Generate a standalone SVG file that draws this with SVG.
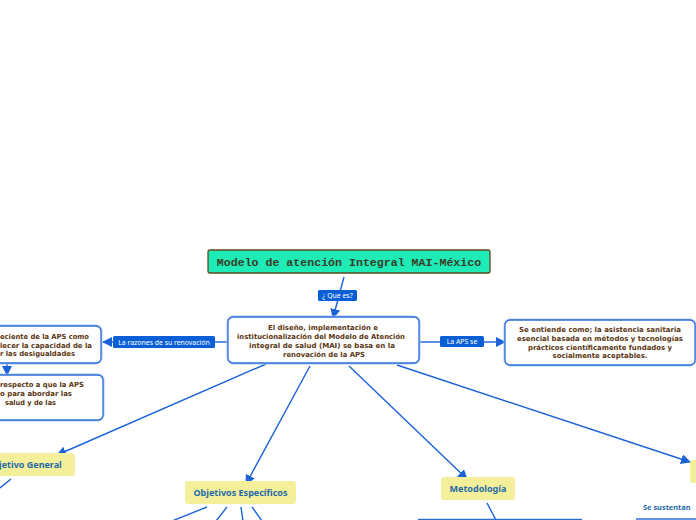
<svg xmlns="http://www.w3.org/2000/svg" width="696" height="520" viewBox="0 0 696 520">
<defs>
<marker id="arr" markerUnits="userSpaceOnUse" markerWidth="10" markerHeight="10" viewBox="0 0 10 10" refX="9" refY="5" orient="auto">
<path d="M0,0 L10,5 L0,10 z" fill="#1a62d8"/>
</marker>
<style>
.c{stroke:#1a62d8;stroke-width:1.4;fill:none}
.ca{stroke:#1a62d8;stroke-width:1.4;fill:none;marker-end:url(#arr)}
.box{fill:#fff;stroke:#2f6fd8;stroke-width:1.3}
.halo{fill:none;stroke:#a9c7f2;stroke-width:3}
.bt{font-family:"DejaVu Sans",Verdana,sans-serif;font-weight:bold;font-size:7px;fill:#5a3510}
.lab{fill:#0a5fd6}
.lt{font-family:"Noto Sans","Open Sans",sans-serif;font-size:6.9px;fill:#fff}
.yel{fill:#f3ef9b}
.yt{font-family:"Noto Sans","Open Sans",sans-serif;font-weight:bold;font-size:9px;fill:#1f6aa9}
</style>
</defs>
<rect width="696" height="520" fill="#fff"/>
<g id="connectors">
<line class="ca" x1="344" y1="277" x2="333" y2="318"/>
<line class="c" x1="228" y1="342" x2="215" y2="342"/>
<line class="ca" x1="113" y1="342" x2="103" y2="342"/>
<line class="ca" x1="7" y1="363" x2="7" y2="375"/>
<line class="c" x1="419" y1="342" x2="440" y2="342"/>
<line class="ca" x1="484" y1="342" x2="505" y2="342"/>
<line class="ca" x1="266" y1="364" x2="57" y2="455"/>
<line class="ca" x1="310" y1="366" x2="246" y2="484"/>
<line class="ca" x1="349" y1="366" x2="467" y2="479"/>
<line class="ca" x1="397" y1="365" x2="690" y2="462"/>
<line class="c" x1="11" y1="479" x2="0" y2="488"/>
<line class="c" x1="207" y1="507" x2="172" y2="521"/>
<line class="c" x1="227" y1="507" x2="216" y2="521"/>
<line class="c" x1="241" y1="507" x2="243" y2="521"/>
<line class="c" x1="252" y1="507" x2="262" y2="521"/>
<line class="c" x1="487" y1="503" x2="496" y2="520"/>
</g>
<g id="root">
<rect x="208" y="250" width="282" height="23" rx="2" fill="#1eebb6" stroke="#5c4a1c" stroke-width="1.3"/>
<text x="349" y="266" text-anchor="middle" font-family="'Liberation Mono','DejaVu Sans Mono',monospace" font-weight="bold" font-size="11.6" fill="#3b3a26">Modelo de atención Integral MAI-México</text>
</g>
<g id="lbl-quees">
<rect class="lab" x="318" y="290" width="39" height="11" rx="1.5"/>
<text class="lt" x="337.5" y="298" text-anchor="middle">¿ Que es?</text>
</g>
<g id="main">
<rect class="halo" x="228" y="317" width="191" height="46" rx="5"/>
<rect class="box" x="228" y="317" width="191" height="46" rx="5"/>
<text class="bt" x="323" y="330" text-anchor="middle" textLength="110" lengthAdjust="spacingAndGlyphs">El diseño, implementación e</text>
<text class="bt" x="321" y="339" text-anchor="middle" textLength="168" lengthAdjust="spacingAndGlyphs">institucionalización del Modelo de Atención</text>
<text class="bt" x="322" y="348" text-anchor="middle" textLength="146" lengthAdjust="spacingAndGlyphs">integral de salud (MAI) se basa en la</text>
<text class="bt" x="324" y="357" text-anchor="middle" textLength="82" lengthAdjust="spacingAndGlyphs">renovación de la APS</text>
</g>
<g id="lbl-razones">
<rect class="lab" x="113" y="336" width="102" height="12" rx="1.5"/>
<text class="lt" x="164" y="344.5" text-anchor="middle">La razones de su renovación</text>
</g>
<g id="left1">
<rect class="halo" x="-6" y="326" width="107" height="37" rx="5"/>
<rect class="box" x="-6" y="326" width="107" height="37" rx="5"/>
<text class="bt" x="0" y="339" textLength="89" lengthAdjust="spacingAndGlyphs">eciente de la APS como</text>
<text class="bt" x="0" y="348" textLength="92" lengthAdjust="spacingAndGlyphs">lecer la capacidad de la</text>
<text class="bt" x="0" y="356" textLength="75" lengthAdjust="spacingAndGlyphs">r las desigualdades</text>
</g>
<g id="left2">
<rect class="halo" x="-6" y="375" width="109" height="45" rx="5"/>
<rect class="box" x="-6" y="375" width="109" height="45" rx="5"/>
<text class="bt" x="0" y="387" textLength="84" lengthAdjust="spacingAndGlyphs">respecto a que la APS</text>
<text class="bt" x="0" y="396" textLength="72" lengthAdjust="spacingAndGlyphs">o para abordar las</text>
<text class="bt" x="5" y="405" textLength="51" lengthAdjust="spacingAndGlyphs">salud y de las</text>
</g>
<g id="lbl-aps">
<rect class="lab" x="440" y="336" width="44" height="11" rx="1.5"/>
<text class="lt" x="462" y="344" text-anchor="middle">La APS se</text>
</g>
<g id="right1">
<rect class="halo" x="505" y="320" width="190" height="45" rx="5"/>
<rect class="box" x="505" y="320" width="190" height="45" rx="5"/>
<text class="bt" x="600" y="332" text-anchor="middle" textLength="162" lengthAdjust="spacingAndGlyphs">Se entiende como; la asistencia sanitaria</text>
<text class="bt" x="600" y="341" text-anchor="middle" textLength="166" lengthAdjust="spacingAndGlyphs">esencial basada en métodos y tecnologías</text>
<text class="bt" x="600" y="350" text-anchor="middle" textLength="144" lengthAdjust="spacingAndGlyphs">prácticos científicamente fundados y</text>
<text class="bt" x="600" y="358" text-anchor="middle" textLength="95" lengthAdjust="spacingAndGlyphs">socialmente aceptables.</text>
</g>
<g id="objgeneral">
<rect class="yel" x="-6" y="453" width="81" height="23" rx="3"/>
<text class="yt" x="-1" y="468">jetivo General</text>
</g>
<g id="objesp">
<rect class="yel" x="185" y="481" width="111" height="23" rx="3"/>
<text class="yt" x="240.5" y="496" text-anchor="middle">Objetivos Específicos</text>
</g>
<g id="metodologia">
<rect class="yel" x="441" y="477" width="74" height="23" rx="3"/>
<text class="yt" x="478" y="492" text-anchor="middle">Metodología</text>
</g>
<g id="rightyellow">
<rect class="yel" x="690" y="460" width="12" height="23" rx="3"/>
</g>
<g id="metbox">
<line x1="418" y1="519.5" x2="582" y2="519.5" stroke="#2f6fd8" stroke-width="1.6"/>
</g>
<g id="sustentan">
<text x="643" y="510" font-family="'Noto Sans','Open Sans',sans-serif" font-weight="bold" font-size="7.4" fill="#1f6aa9">Se sustentan</text>
<line x1="636" y1="519" x2="696" y2="519" stroke="#2f6fd8" stroke-width="1.6"/>
</g>
</svg>
